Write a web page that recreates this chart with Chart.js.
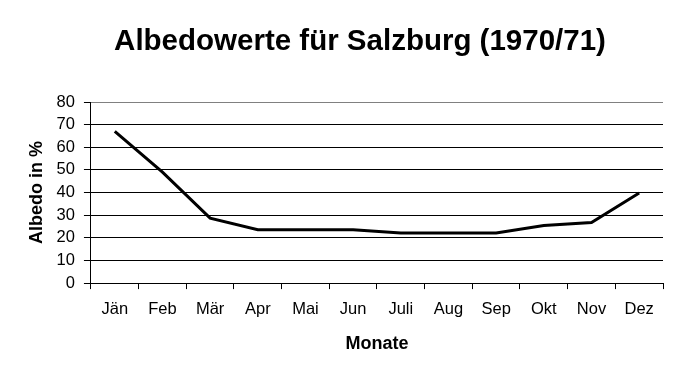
<!DOCTYPE html>
<html>
<head>
<meta charset="utf-8">
<script src="https://cdn.jsdelivr.net/npm/chart.js@4.4.1/dist/chart.umd.min.js"></script>
<style>
  html, body { margin: 0; padding: 0; background: #fff; }
  #wrap { width: 683px; height: 380px; position: relative; }
</style>
</head>
<body>
<div id="wrap"><canvas id="chart"></canvas></div>
<script>
// Albedo values for Salzburg
const months = ["Jän", "Feb", "Mär", "Apr", "Mai", "Jun", "Juli", "Aug", "Sep", "Okt", "Nov", "Dez"];
const albedo = [67, 49, 28.7, 23.6, 23.6, 23.6, 22.1, 22.1, 22.1, 25.4, 26.8, 39.8];
const yTicks = [0, 10, 20, 30, 40, 50, 60, 70, 80];
const chartTitle = "Albedowerte für Salzburg (1970/71)";

const FONT = "'Liberation Sans', Arial, sans-serif";

// the title sits a little left of the plot centre, so draw it ourselves
const titlePlugin = {
  id: "offsetTitle",
  afterDraw(chart) {
    const c = chart.ctx;
    c.save();
    c.font = "bold 29.5px " + FONT;
    c.fillStyle = "#000";
    c.textAlign = "center";
    c.textBaseline = "middle";
    c.fillText(chartTitle, 360, 42);
    c.restore();
  }
};

const ctx = document.getElementById("chart").getContext("2d");

new Chart(ctx, {
  type: "line",
  data: {
    labels: months,
    datasets: [{
      label: "Albedo",
      data: albedo,
      borderColor: "#000",
      borderWidth: 3,
      pointRadius: 0,
      tension: 0,
      fill: false
    }]
  },
  plugins: [titlePlugin],
  options: {
    responsive: true,
    maintainAspectRatio: false,
    animation: false,
    layout: { padding: { top: 102, right: 20, bottom: 25.5, left: 26 } },
    plugins: {
      legend: { display: false },
      tooltip: { enabled: false },
      title: { display: false }
    },
    scales: {
      x: {
        offset: true,
        grid: {
          offset: true,
          drawOnChartArea: true,
          color: c => c.index === months.length ? "#808080" : "rgba(0,0,0,0)",
          tickColor: "#000",
          tickLength: 6
        },
        border: { color: "#000", width: 1 },
        ticks: {
          color: "#000",
          font: { family: FONT, size: 16.5 },
          padding: 10.5,
          maxRotation: 0,
          autoSkip: false
        },
        title: {
          display: true,
          text: "Monate",
          color: "#000",
          font: { family: FONT, size: 18, weight: "bold" },
          padding: { top: 3, bottom: 0 }
        }
      },
      y: {
        min: 0,
        max: 80,
        afterBuildTicks: s => { s.ticks = yTicks.map(v => ({ value: v })); },
        grid: {
          color: c => c.tick && c.tick.value === 80 ? "#808080" : "#000",
          tickColor: "#000",
          tickLength: 7
        },
        border: { color: "#000", width: 1 },
        ticks: {
          color: "#000",
          font: { family: FONT, size: 16.5 },
          padding: 9,
          autoSkip: false
        },
        title: {
          display: true,
          text: "Albedo in %",
          color: "#000",
          font: { family: FONT, size: 18, weight: "bold" },
          padding: { top: 0, bottom: 0 }
        }
      }
    }
  }
});
</script>
</body>
</html>
